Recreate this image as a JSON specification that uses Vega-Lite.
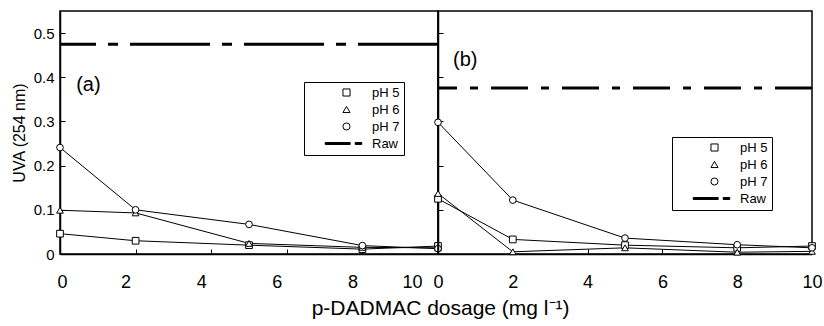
{
  "$schema": "https://vega.github.io/schema/vega-lite/v6.json",
  "padding": {"left": 10, "top": 10, "right": 0, "bottom": 0},
  "background": "white",
  "config": {
    "font": "Liberation Sans",
    "view": {"stroke": "black", "strokeWidth": 1.5},
    "axis": {"grid": false, "domainColor": "black", "domainWidth": 1.5, "tickColor": "black", "tickWidth": 1, "tickSize": -5, "labelColor": "black", "labelFont": "Liberation Sans", "titleFont": "Liberation Sans", "titleColor": "black", "titleFontWeight": "normal", "labelFlush": false},
    "legend": {"strokeColor": "black", "strokeWidth": 1, "padding": 4, "labelFont": "Liberation Sans", "labelFontSize": 13, "labelColor": "black", "rowPadding": 3, "labelOffset": 19, "symbolOffset": 32, "fillColor": "white", "symbolOpacity": 1, "symbolSize": 50, "symbolStrokeWidth": 1},
    "concat": {"spacing": 0}
  },
  "title": {"text": "p-DADMAC dosage (mg l⁻¹)", "orient": "bottom", "anchor": "middle", "fontSize": 21, "fontWeight": "normal", "font": "Liberation Sans", "color": "black", "offset": 6, "dx": 24},
  "datasets": {
    "uva": [
      {"panel": "a", "series": "pH 5", "x": 0, "y": 0.046},
      {"panel": "a", "series": "pH 5", "x": 2, "y": 0.030},
      {"panel": "a", "series": "pH 5", "x": 5, "y": 0.020},
      {"panel": "a", "series": "pH 5", "x": 8, "y": 0.011},
      {"panel": "a", "series": "pH 5", "x": 10, "y": 0.018},
      {"panel": "a", "series": "pH 6", "x": 0, "y": 0.099},
      {"panel": "a", "series": "pH 6", "x": 2, "y": 0.093},
      {"panel": "a", "series": "pH 6", "x": 5, "y": 0.024},
      {"panel": "a", "series": "pH 6", "x": 8, "y": 0.015},
      {"panel": "a", "series": "pH 6", "x": 10, "y": 0.014},
      {"panel": "a", "series": "pH 7", "x": 0, "y": 0.241},
      {"panel": "a", "series": "pH 7", "x": 2, "y": 0.100},
      {"panel": "a", "series": "pH 7", "x": 5, "y": 0.067},
      {"panel": "a", "series": "pH 7", "x": 8, "y": 0.019},
      {"panel": "a", "series": "pH 7", "x": 10, "y": 0.012},
      {"panel": "a", "series": "Raw", "y": 0.475},
      {"panel": "b", "series": "pH 5", "x": 0, "y": 0.125},
      {"panel": "b", "series": "pH 5", "x": 2, "y": 0.033},
      {"panel": "b", "series": "pH 5", "x": 5, "y": 0.020},
      {"panel": "b", "series": "pH 5", "x": 8, "y": 0.014},
      {"panel": "b", "series": "pH 5", "x": 10, "y": 0.018},
      {"panel": "b", "series": "pH 6", "x": 0, "y": 0.137},
      {"panel": "b", "series": "pH 6", "x": 2, "y": 0.005},
      {"panel": "b", "series": "pH 6", "x": 5, "y": 0.014},
      {"panel": "b", "series": "pH 6", "x": 8, "y": 0.004},
      {"panel": "b", "series": "pH 6", "x": 10, "y": 0.006},
      {"panel": "b", "series": "pH 7", "x": 0, "y": 0.298},
      {"panel": "b", "series": "pH 7", "x": 2, "y": 0.122},
      {"panel": "b", "series": "pH 7", "x": 5, "y": 0.036},
      {"panel": "b", "series": "pH 7", "x": 8, "y": 0.021},
      {"panel": "b", "series": "pH 7", "x": 10, "y": 0.014},
      {"panel": "b", "series": "Raw", "y": 0.376}
    ]
  },
  "data": {"name": "uva"},
  "resolve": {"scale": {"shape": "independent", "x": "independent", "y": "independent"}, "legend": {"shape": "independent"}, "axis": {"x": "independent", "y": "independent"}},
  "bounds": "flush",
  "hconcat": [
    {
      "width": 378, "height": 243,
      "layer": [
        {
          "transform": [{"filter": "datum.panel == 'a' && datum.series != 'Raw'"}],
          "mark": {"type": "line", "color": "black", "strokeWidth": 1},
          "encoding": {
            "x": {"field": "x", "type": "quantitative", "scale": {"domain": [0, 10], "nice": false}, "axis": {"title": null, "values": [0, 2, 4, 6, 8, 10], "format": "d", "labelFontSize": 18, "labelPadding": 24, "labelOffset": {"condition": [{"test": "datum.value == 0", "value": 2}, {"test": "datum.value == 10", "value": -26}], "value": -10}}},
            "y": {"field": "y", "type": "quantitative", "scale": {"domain": [0, 0.55], "nice": false}, "axis": {"title": "UVA (254 nm)", "values": [0, 0.1, 0.2, 0.3, 0.4, 0.5], "format": ".1~f", "labelFontSize": 15, "labelPadding": 11, "titleFontSize": 16, "titlePadding": 6}},
            "detail": {"field": "series"}
          }
        },
        {
          "transform": [{"filter": "datum.panel == 'a' && datum.series != 'Raw'"}],
          "mark": {"type": "point", "filled": true, "fill": "white", "stroke": "black", "strokeWidth": 1, "size": 45, "opacity": 1},
          "encoding": {
            "x": {"field": "x", "type": "quantitative"},
            "y": {"field": "y", "type": "quantitative"},
            "shape": {"field": "series", "type": "nominal",
              "scale": {"domain": ["pH 5", "pH 6", "pH 7", "Raw"], "range": ["square", "triangle-up", "circle", "M-6.02,-0.28H1.05V0H-6.02ZM-6.02,0H1.05V0.28H-6.02ZM2.46,-0.28H4.32V0H2.46ZM2.46,0H4.32V0.28H2.46Z"]},
              "legend": {"title": null, "orient": "none", "legendX": 244, "legendY": 71, "labelExpr": "datum.label + '       '"}}
          }
        },
        {
          "transform": [{"filter": "datum.panel == 'a' && datum.series == 'Raw'"}],
          "mark": {"type": "rule", "color": "black", "strokeWidth": 3, "strokeDash": [80, 12, 10, 12]},
          "encoding": {"y": {"field": "y", "type": "quantitative"}}
        },
        {
          "data": {"values": [{"label": "(a)"}]},
          "mark": {"type": "text", "fontSize": 20, "font": "Liberation Sans", "color": "black"},
          "encoding": {"x": {"datum": 0.75, "type": "quantitative"}, "y": {"datum": 0.383, "type": "quantitative"}, "text": {"field": "label"}}
        }
      ]
    },
    {
      "width": 374, "height": 243,
      "layer": [
        {
          "transform": [{"filter": "datum.panel == 'b' && datum.series != 'Raw'"}],
          "mark": {"type": "line", "color": "black", "strokeWidth": 1},
          "encoding": {
            "x": {"field": "x", "type": "quantitative", "scale": {"domain": [0, 10], "nice": false}, "axis": {"title": null, "values": [0, 2, 4, 6, 8, 10], "format": "d", "labelFontSize": 18, "labelPadding": 24}},
            "y": {"field": "y", "type": "quantitative", "scale": {"domain": [0, 0.55], "nice": false}, "axis": {"title": null, "labels": false, "values": [0, 0.1, 0.2, 0.3, 0.4, 0.5]}},
            "detail": {"field": "series"}
          }
        },
        {
          "transform": [{"filter": "datum.panel == 'b' && datum.series != 'Raw'"}],
          "mark": {"type": "point", "filled": true, "fill": "white", "stroke": "black", "strokeWidth": 1, "size": 45, "opacity": 1},
          "encoding": {
            "x": {"field": "x", "type": "quantitative"},
            "y": {"field": "y", "type": "quantitative"},
            "shape": {"field": "series", "type": "nominal",
              "scale": {"domain": ["pH 5", "pH 6", "pH 7", "Raw"], "range": ["square", "triangle-up", "circle", "M-6.02,-0.28H1.05V0H-6.02ZM-6.02,0H1.05V0.28H-6.02ZM2.46,-0.28H4.32V0H2.46ZM2.46,0H4.32V0.28H2.46Z"]},
              "legend": {"title": null, "orient": "none", "legendX": 234, "legendY": 126, "labelExpr": "datum.label + '       '"}}
          }
        },
        {
          "transform": [{"filter": "datum.panel == 'b' && datum.series == 'Raw'"}],
          "mark": {"type": "rule", "color": "black", "strokeWidth": 3, "strokeDash": [37, 13, 8, 13]},
          "encoding": {"y": {"field": "y", "type": "quantitative"}}
        },
        {
          "data": {"values": [{"label": "(b)"}]},
          "mark": {"type": "text", "fontSize": 20, "font": "Liberation Sans", "color": "black"},
          "encoding": {"x": {"datum": 0.73, "type": "quantitative"}, "y": {"datum": 0.44, "type": "quantitative"}, "text": {"field": "label"}}
        }
      ]
    }
  ]
}
